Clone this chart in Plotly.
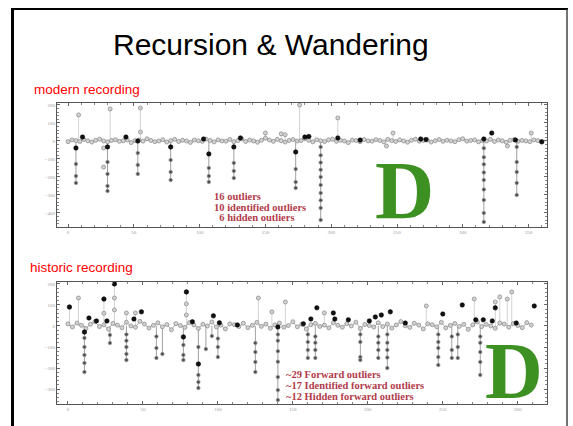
import plotly.graph_objects as go

# ---------------- data: modern recording ----------------
mod_base = [-4, 6, 2, -3, 8, 1, -6, 4, 10, 0,
            -5, 3, 7, -2, 1, 6, -9, 2, 5, -1,
            12, 3, -4, 0, 7, -6, 2, 9, -3, 4,
            0, -8, 5, 1, -2, 10, 3, -5, 6, 0,
            -1, 8, -4, 2, 11, -3, 5, 0, -7, 4,
            16, 5, -2, 9, 1, -6, 3, 8, 0, 2,
            12, 4, -5, 7, 1, -3, 6, 10, -2, 4,
            0, -9, 5, 2, -4, 8, 0, -1, 7, 3,
            -5, 9, 2, -3, 6, 0, -7, 4, 10, -1,
            3, 5, -6, 1, 8, -2, 4, 0, -4, 7,
            12, -1, 3, 6, -5, 2, 0, 9, -3, 5,
            1, -7, 4, 8, -2, 3, 0, -4, 6, 2,
            -5]
mod_step = 3

mod_up_x = [8, 32, 55, 150, 162, 165, 176, 205, 247, 352]
mod_up_vals = [[145], [178], [50, 183], [44], [40], [35], [200], [128], [44], [44]]

mod_down_x = [6, 30, 53, 78, 107, 126, 173, 192, 316, 341]
mod_down_vals = [[-39, -128, -195, -233],
                 [-33, -117, -183, -250, -278],
                 [-67, -133, -183],
                 [-33, -106, -172, -217],
                 [-72, -150, -195, -228],
                 [-33, -122, -167, -206],
                 [-61, -156, -228, -261],
                 [-33, -80, -120, -160, -200, -245, -289, -330, -372, -439],
                 [-40, -90, -130, -175, -217, -270, -328, -400, -450],
                 [-33, -117, -172, -233, -300]]

mod_gray_x = [27, 27, 242, 334]
mod_gray_y = [-39, -145, -28, -28]

mod_black_x = [6, 11, 30, 44, 53, 78, 103, 107, 126, 131, 173, 180, 183, 205,
               222, 268, 272, 316, 322, 340, 360]
mod_black_y = [-39, 22, -33, 22, 0, -33, 11, -72, -33, 17, -61, 22, 25, 17,
               5, 11, 8, 11, 44, 5, -5]

# ---------------- data: historic recording ----------------
his_base = [10, -5, 14, 3, -12, 8, 20, -3, 5, -15,
            12, 4, -8, 18, 0, -6, 22, 9, -10, 3,
            15, -4, 7, -18, 11, 2, -7, 16, 5, -12,
            8, 0, 19, -5, 4, -14, 10, 6, -3, 13,
            -8, 3, 17, -2, 9, -11, 5, 14, -6, 2,
            20, -4, 8, -15, 6, 12, -2, 4, -9, 16,
            3, -6, 11, 0, 18, -12, 7, 2, -5, 15,
            -3, 9, -10, 5, 21, 1, -7, 13, 4, -14,
            10, 6, -4, 17, -9, 3, 12, -2, 8, -16,
            5, 19, -3, 7, 0, -11, 14, 9, -6, 11,
            2, -8, 16, 4]
his_step = 3

his_up_x = [1, 7, 24, 31, 39, 45, 79, 127, 136, 145, 171, 239, 271, 285, 288, 293, 296]
his_up_vals = [[90], [133], [60, 128], [76, 133, 200], [62], [62], [52, 105, 162],
               [133], [67], [114], [62], [95], [128], [114], [138], [128], [162]]

his_down_x = [11, 28, 39, 59, 63, 77, 87, 92, 96, 100, 125, 140, 160, 165,
              195, 207, 213, 247, 256, 260, 275]
his_down_vals = [[-29, -57, -100, -138, -176, -219],
                 [-43, -81],
                 [-40, -70, -100, -133, -162],
                 [-50, -105, -152],
                 [-133],
                 [-52, -90, -138, -162],
                 [-100, -181, -233, -267, -295],
                 [-110],
                 [-48],
                 [-60, -100, -148],
                 [-81, -124, -171, -219],
                 [-40, -70, -120, -170, -243, -305, -352],
                 [-40, -76, -114, -152],
                 [-50, -80, -114, -152],
                 [-40, -76, -148, -162],
                 [-50, -80, -114, -152],
                 [-40, -80, -114, -150, -200],
                 [-40, -76, -105, -148, -186],
                 [-50, -114, -152],
                 [-40, -100, -152],
                 [-50, -80, -124, -171, -233]]

his_black_x = [1, 11, 14, 19, 24, 26, 31, 44, 49, 77, 79, 83, 87, 97, 101, 113,
               140, 157, 162, 166, 177, 178, 187, 201, 205, 209, 215, 225, 250,
               263, 272, 277, 283, 285, 299, 311]
his_black_y = [90, -29, 38, 24, 128, 24, 200, 33, 67, -52, 162, 20, -181, 48, 15, 5,
               -5, 10, 33, 86, 62, 33, 29, 24, 43, 52, 67, 14, 57,
               100, 29, 29, 24, 86, 14, 95]

mod_ticks = [200, 100, 0, -100, -200, -300, -400]
his_ticks = [200, 100, 0, -100, -200, -300]
mod_xticks = [0, 50, 100, 150, 200, 250, 300, 350]
his_xticks = [0, 50, 100, 150, 200, 250, 300]

title_text = "Recursion & Wandering"
mod_label = "modern recording"
his_label = "historic recording"
mod_notes = ["16 outliers", "10 identified outliers", "  6 hidden outliers"]
his_notes = ["~29 Forward outliers", "~17 Identified forward outliers", "~12 Hidden forward outliers"]


def segs(xs, vals):
    sx, sy = [], []
    for x, v in zip(xs, vals):
        far = max(v, key=abs)
        sx += [x, x, None]
        sy += [0, far, None]
    return sx, sy


def pts(xs, vals):
    px, py = [], []
    for x, v in zip(xs, vals):
        for y in v:
            px.append(x)
            py.append(y)
    return px, py


fig = go.Figure()

GRAY_MK = dict(size=4, color="#d2d2d2", line=dict(color="#8f8f8f", width=0.8))


def add_panel(base, step, up_x, up_vals, dn_x, dn_vals, bx, by, xa, ya, gx=None, gy=None):
    sx, sy = segs(up_x, up_vals)
    fig.add_trace(go.Scatter(x=sx, y=sy, mode="lines", line=dict(color="#c8c8c8", width=0.8),
                             xaxis=xa, yaxis=ya, hoverinfo="skip"))
    px, py = pts(up_x, up_vals)
    fig.add_trace(go.Scatter(x=px, y=py, mode="markers", marker=GRAY_MK, xaxis=xa, yaxis=ya))
    sx, sy = segs(dn_x, dn_vals)
    fig.add_trace(go.Scatter(x=sx, y=sy, mode="lines", line=dict(color="#888", width=0.8),
                             xaxis=xa, yaxis=ya, hoverinfo="skip"))
    px, py = pts(dn_x, dn_vals)
    fig.add_trace(go.Scatter(x=px, y=py, mode="markers",
                             marker=dict(size=3.5, color="#4a4a4a", line=dict(color="#999", width=0.8)),
                             xaxis=xa, yaxis=ya))
    if gx:
        fig.add_trace(go.Scatter(x=gx, y=gy, mode="markers", marker=GRAY_MK, xaxis=xa, yaxis=ya))
    xs = [step * i for i in range(len(base))]
    fig.add_trace(go.Scatter(x=xs, y=base, mode="lines+markers",
                             line=dict(color="#b0b0b0", width=1),
                             marker=GRAY_MK, xaxis=xa, yaxis=ya))
    fig.add_trace(go.Scatter(x=bx, y=by, mode="markers",
                             marker=dict(size=4.5, color="#111", line=dict(color="#000", width=0.5)),
                             xaxis=xa, yaxis=ya))


add_panel(mod_base, mod_step, mod_up_x, mod_up_vals, mod_down_x, mod_down_vals,
          mod_black_x, mod_black_y, "x", "y", mod_gray_x, mod_gray_y)
add_panel(his_base, his_step, his_up_x, his_up_vals, his_down_x, his_down_vals,
          his_black_x, his_black_y, "x2", "y2")

W, H = 573, 426


def px_x(p):
    return p / W


def px_y(p):
    return 1 - p / H


axis_common = dict(showline=True, linecolor="#555", linewidth=1, mirror="ticks",
                   ticks="inside", ticklen=3, tickcolor="#666",
                   tickfont=dict(size=5, color="#999", family="Liberation Serif"),
                   showgrid=False, zeroline=False, fixedrange=True)

fig.update_layout(
    width=W, height=H, margin=dict(l=0, r=0, t=0, b=0),
    paper_bgcolor="white", plot_bgcolor="white", showlegend=False,
    xaxis=dict(domain=[px_x(57), px_x(547)], range=[-8.4, 364], anchor="y",
               tickvals=mod_xticks, minor=dict(ticks="inside", ticklen=2, dtick=10, tickcolor="#888"),
               **axis_common),
    yaxis=dict(domain=[px_y(227), px_y(103)], range=[-478, 211], anchor="x",
               tickvals=mod_ticks, minor=dict(ticks="inside", ticklen=2, dtick=20, tickcolor="#888"),
               **axis_common),
    xaxis2=dict(domain=[px_x(57), px_x(547)], range=[-7.3, 319.5], anchor="y2",
                tickvals=his_xticks, minor=dict(ticks="inside", ticklen=2, dtick=10, tickcolor="#888"),
                **axis_common),
    yaxis2=dict(domain=[px_y(404), px_y(282)], range=[-371, 209], anchor="x2",
                tickvals=his_ticks, minor=dict(ticks="inside", ticklen=2, dtick=20, tickcolor="#888"),
                **axis_common),
)

# slide border
fig.add_shape(type="line", xref="paper", yref="paper", x0=px_x(12.5), x1=px_x(12.5),
              y0=-0.02, y1=px_y(8), line=dict(color="black", width=3))
fig.add_shape(type="line", xref="paper", yref="paper", x0=px_x(11), x1=px_x(568),
              y0=px_y(9), y1=px_y(9), line=dict(color="black", width=2))
fig.add_shape(type="line", xref="paper", yref="paper", x0=px_x(567), x1=px_x(567),
              y0=-0.02, y1=px_y(9), line=dict(color="#444", width=1.5))

ann = []
ann.append(dict(text=title_text, x=px_x(271), y=px_y(45), xref="paper", yref="paper",
                showarrow=False, xanchor="center", yanchor="middle",
                font=dict(family="Liberation Sans, Arial", size=30, color="black")))
ann.append(dict(text=mod_label, x=px_x(32), y=px_y(89), xref="paper", yref="paper",
                showarrow=False, xanchor="left", yanchor="middle",
                font=dict(family="Liberation Sans, Arial", size=13.5, color="#ff0000")))
ann.append(dict(text=his_label, x=px_x(28), y=px_y(267), xref="paper", yref="paper",
                showarrow=False, xanchor="left", yanchor="middle",
                font=dict(family="Liberation Sans, Arial", size=13.5, color="#ff0000")))
for i, t in enumerate(mod_notes):
    ann.append(dict(text="<b>" + t.replace(" ", "&nbsp;") + "</b>", x=px_x(212), y=px_y(196 + 11 * i),
                    xref="paper", yref="paper", showarrow=False, xanchor="left", yanchor="middle",
                    font=dict(family="Liberation Serif", size=10.5, color="#b23a4a")))
for i, t in enumerate(his_notes):
    ann.append(dict(text="<b>" + t + "</b>", x=px_x(284), y=px_y(374 + 11 * i),
                    xref="paper", yref="paper", showarrow=False, xanchor="left", yanchor="middle",
                    font=dict(family="Liberation Serif", size=10.5, color="#b23a4a")))
ann.append(dict(text="<b>D</b>", x=px_x(404.5), y=px_y(190), xref="paper", yref="paper",
                showarrow=False, xanchor="center", yanchor="middle", height=70,
                font=dict(family="Liberation Serif", size=82, color="#3d9022")))
ann.append(dict(text="<b>D</b>", x=px_x(513.5), y=px_y(371), xref="paper", yref="paper",
                showarrow=False, xanchor="center", yanchor="middle", height=68,
                font=dict(family="Liberation Serif", size=80, color="#3d9022")))
fig.update_layout(annotations=ann)

fig.write_html("out.html", config={"displayModeBar": False},
               post_script="document.body.style.margin='0px';")
